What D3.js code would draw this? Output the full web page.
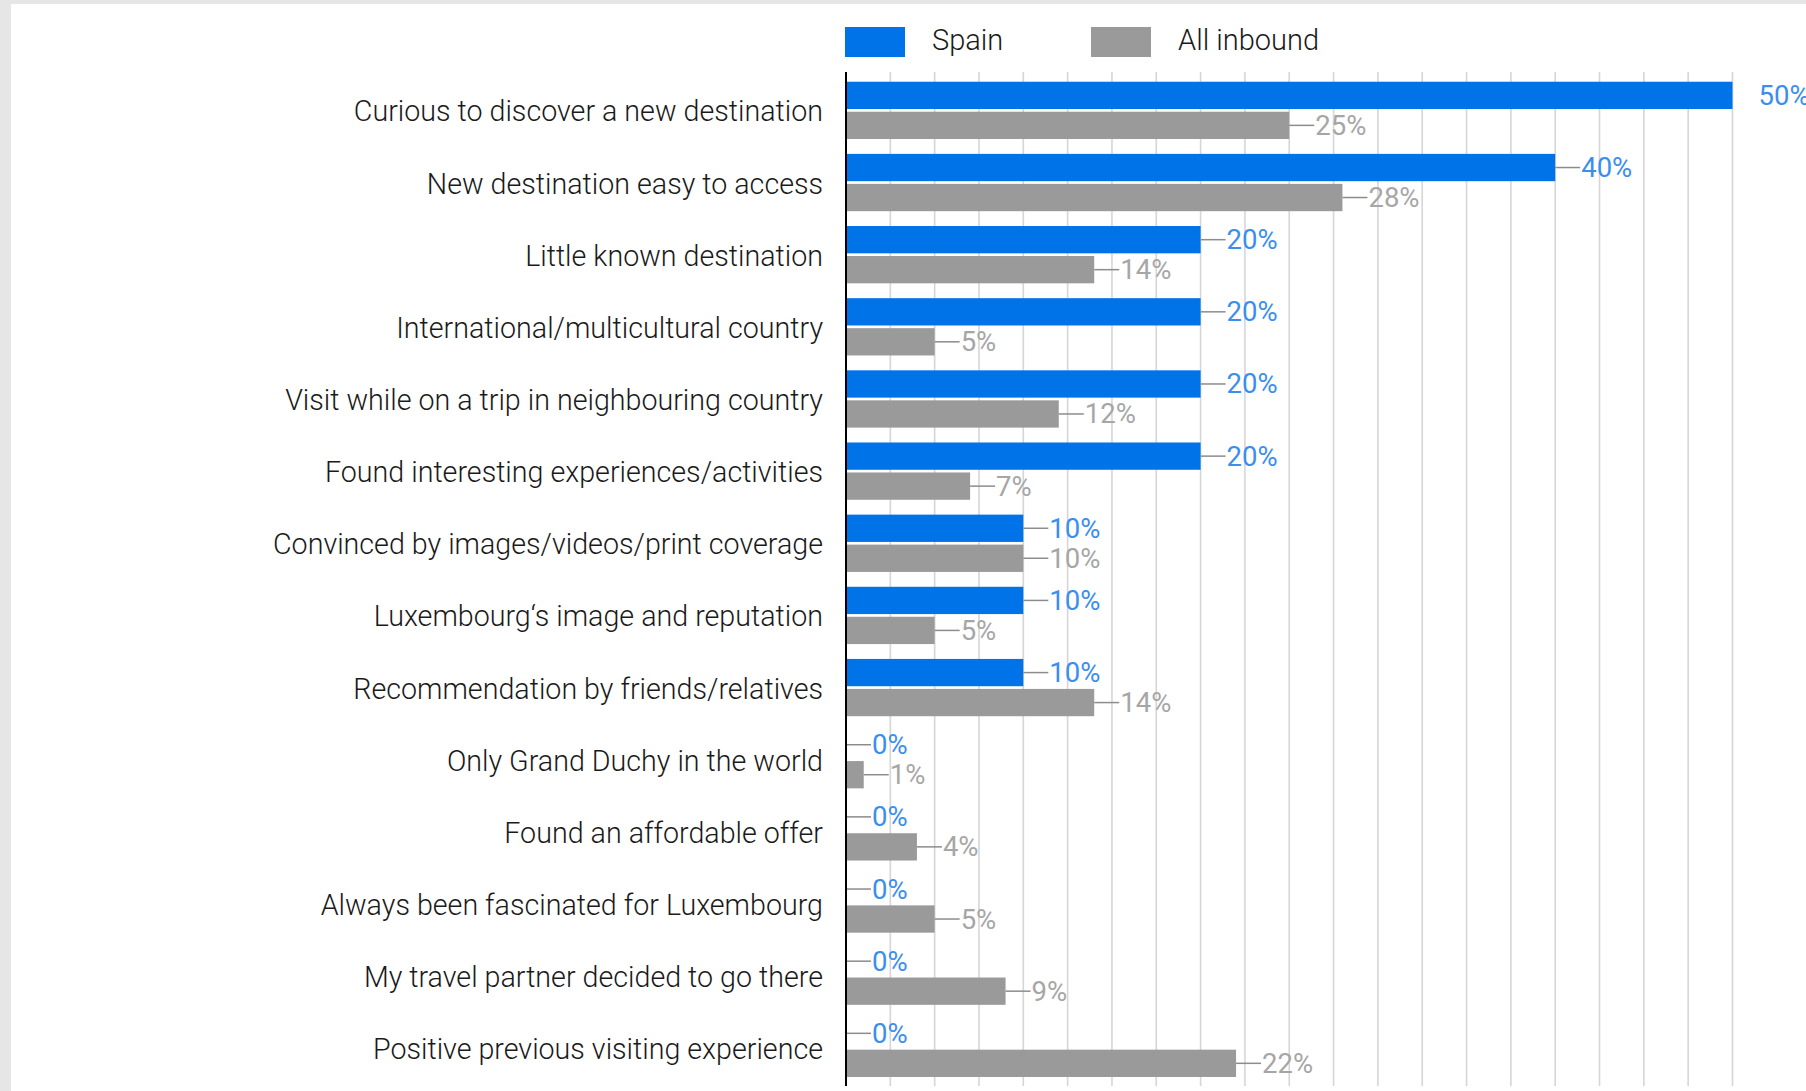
<!DOCTYPE html>
<html>
<head>
<meta charset="utf-8">
<script src="https://cdn.jsdelivr.net/npm/d3@7"></script>
<style>
  body { margin: 0; background: #e6e6e6; }
  svg { display: block; }
</style>
</head>
<body>
<svg width="1806" height="1091"></svg>

<script>

var categories = [
  "Curious to discover a new destination",
  "New destination easy to access",
  "Little known destination",
  "International/multicultural country",
  "Visit while on a trip in neighbouring country",
  "Found interesting experiences/activities",
  "Convinced by images/videos/print coverage",
  "Luxembourg\u2018s image and reputation",
  "Recommendation by friends/relatives",
  "Only Grand Duchy in the world",
  "Found an affordable offer",
  "Always been fascinated for Luxembourg",
  "My travel partner decided to go there",
  "Positive previous visiting experience"
];

var series = ["Spain", "All inbound"];

var spain   = [50, 40, 20, 20, 20, 20, 10, 10, 10, 0, 0, 0, 0, 0];
var inbound = [25, 28, 14, 5, 12, 7, 10, 5, 14, 1, 4, 5, 9, 22];

var gridTicks = d3.range(2.5, 50.01, 2.5);

var colors = {"Spain": "#0073e8", "All inbound": "#9a9a9a"};
var labelColors = {"Spain": "#3a8ef0", "All inbound": "#a6a6a6"};

var svg = d3.select("svg");

svg.append("rect")
    .attr("x", 11).attr("y", 4)
    .attr("width", 1806 - 11).attr("height", 1091 - 4)
    .attr("fill", "#fff");

var x = d3.scaleLinear()
    .domain([0, 50])
    .range([846, 1732.5]);

var y = d3.scaleBand()
    .domain(categories)
    .range([74.3, 74.3 + 14 * 72.15])
    .paddingInner(0.206)
    .paddingOuter(0.103);

var y1 = d3.scaleBand()
    .domain(series)
    .range([0, y.bandwidth()])
    .paddingInner(0.09);

// vertical grid
svg.append("g")
    .attr("stroke", "#d6d6d6")
    .attr("stroke-width", 1.6)
  .selectAll("line")
  .data(gridTicks)
  .enter().append("line")
    .attr("x1", function(d) { return x(d); })
    .attr("x2", function(d) { return x(d); })
    .attr("y1", 72)
    .attr("y2", 1086);

var rows = categories.map(function(c, i) {
  return {category: c, values: [
    {key: "Spain", value: spain[i]},
    {key: "All inbound", value: inbound[i]}
  ]};
});

var row = svg.append("g")
  .selectAll("g")
  .data(rows)
  .enter().append("g")
    .attr("transform", function(d) { return "translate(0," + y(d.category) + ")"; });

row.selectAll("rect")
  .data(function(d) { return d.values; })
  .enter().append("rect")
    .attr("x", x(0))
    .attr("y", function(d) { return y1(d.key); })
    .attr("width", function(d) { return x(d.value) - x(0); })
    .attr("height", y1.bandwidth())
    .attr("fill", function(d) { return colors[d.key]; });

// connector lines to the value labels (none when the bar reaches the end)
row.selectAll("line")
  .data(function(d) { return d.values.filter(function(v) { return v.value < x.domain()[1]; }); })
  .enter().append("line")
    .attr("x1", function(d) { return x(d.value); })
    .attr("x2", function(d) { return x(d.value) + 25; })
    .attr("y1", function(d) { return y1(d.key) + y1.bandwidth() / 2; })
    .attr("y2", function(d) { return y1(d.key) + y1.bandwidth() / 2; })
    .attr("stroke", "#8c8c8c")
    .attr("stroke-width", 1.5);

row.selectAll("text")
  .data(function(d) { return d.values; })
  .enter().append("text")
    .attr("x", function(d) { return x(d.value) + 26; })
    .attr("y", function(d) { return y1(d.key) + y1.bandwidth() / 2 + 9.5; })
    .attr("font-family", "Roboto, sans-serif")
    .attr("font-size", 27.5)
    .attr("fill", function(d) { return labelColors[d.key]; })
    .text(function(d) { return d.value + "%"; });

// category labels, slightly condensed like the source
svg.append("g")
    .attr("transform", "translate(823,0) scale(0.955,1)")
    .attr("font-family", "Roboto, sans-serif")
    .attr("font-weight", 300)
    .attr("font-size", 30)
    .attr("fill", "#1a1a1a")
    .attr("text-anchor", "end")
  .selectAll("text")
  .data(categories)
  .enter().append("text")
    .attr("x", 0)
    .attr("y", function(d) { return y(d) + y.bandwidth() / 2 + 11; })
    .text(function(d) { return d; });

// axis line
svg.append("line")
    .attr("x1", x(0)).attr("x2", x(0))
    .attr("y1", 72).attr("y2", 1086)
    .attr("stroke", "#000")
    .attr("stroke-width", 2);

// legend
var legendX = {"Spain": 845, "All inbound": 1091};
var legend = svg.append("g")
  .selectAll("g")
  .data(series)
  .enter().append("g")
    .attr("transform", function(d) { return "translate(" + legendX[d] + ",27)"; });

legend.append("rect")
    .attr("width", 60)
    .attr("height", 30)
    .attr("fill", function(d) { return colors[d]; });

legend.append("text")
    .attr("x", 87)
    .attr("y", 22.5)
    .attr("font-family", "Roboto, sans-serif")
    .attr("font-weight", 300)
    .attr("font-size", 29)
    .attr("fill", "#1a1a1a")
    .text(function(d) { return d; });

</script>
</body>
</html>
